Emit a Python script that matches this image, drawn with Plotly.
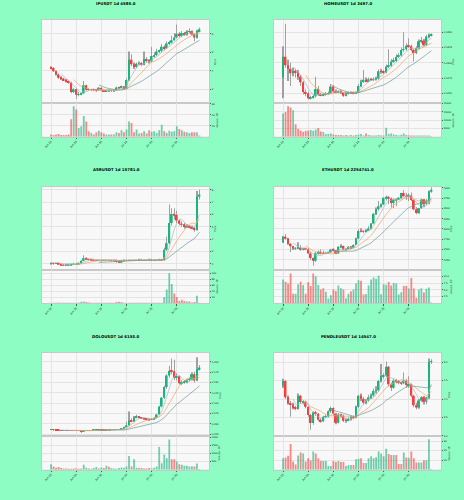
import numpy as np
import pandas as pd
import plotly.graph_objects as go

W, H = 464, 500
date_ticks = [0, 10, 20, 30, 40, 50]
date_labels = ["Jun 10", "Jun 20", "Jun 30", "Jul 10", "Jul 20", "Jul 30"]

# ---------------- IPUSDT ----------------
ip_open = [4.20,4.15,3.98,3.80,3.62,3.58,3.50,3.42,3.35,2.85, 3.00,2.70,2.72,2.78,3.22,2.98,2.97,2.99,2.96,2.95,
           3.08,2.95,2.90,2.93,2.95,2.92,2.94,3.10,3.08,3.15, 3.05,3.50,4.60,4.35,4.20,4.38,4.40,4.33,4.62,4.58,
           4.50,4.80,4.85,5.05,5.08,5.30,5.22,5.48,5.52,5.66, 5.80,6.00,5.88,6.05,5.95,6.12,6.14,5.98,5.80,6.15]
ip_close = [4.15,3.98,3.80,3.62,3.58,3.50,3.42,3.35,2.85,3.00, 2.70,2.72,2.78,3.22,2.98,2.97,2.99,2.96,2.95,3.08,
            2.95,2.90,2.93,2.95,2.92,2.94,3.10,3.08,3.15,3.05, 3.50,4.60,4.35,4.20,4.38,4.40,4.33,4.62,4.58,4.50,
            4.80,4.85,5.05,5.08,5.30,5.22,5.48,5.52,5.66,5.80, 6.00,5.88,6.05,5.95,6.12,6.14,5.98,5.80,6.15,6.25]
ip_high = [4.25,4.20,4.02,3.85,3.70,3.62,3.55,3.48,3.40,3.05, 3.05,2.85,2.82,3.45,3.25,3.05,3.03,3.02,3.00,3.12,
           3.10,2.98,2.97,2.99,2.97,2.98,3.15,3.14,3.20,3.18, 3.58,5.05,4.90,4.45,4.45,4.50,4.48,5.05,4.75,4.62,
           5.30,5.00,5.20,5.15,5.45,5.38,5.60,5.62,5.90,6.05, 6.50,6.10,6.15,6.10,6.20,6.30,6.18,6.02,6.22,6.35]
ip_low = [4.08,3.95,3.75,3.55,3.50,3.45,3.36,3.30,2.78,2.80, 2.48,2.62,2.68,2.75,2.92,2.92,2.93,2.92,2.90,2.93,
          2.90,2.86,2.88,2.90,2.88,2.90,2.92,3.02,3.05,3.00, 3.02,3.45,4.25,4.10,4.15,4.30,4.25,4.30,4.48,4.40,
          4.45,4.72,4.80,4.95,5.02,5.10,5.18,5.40,5.48,5.62, 5.75,5.80,5.82,5.88,5.90,6.05,5.92,5.60,5.75,6.10]
ip_vol = [4,3,4,5,3,3,3,4,32,56, 50,16,19,38,28,10,7,4,8,11, 8,6,4,4,4,4,8,7,12,8,
          13,28,25,8,13,6,7,10,6,12, 9,10,7,12,22,10,7,11,9,10, 19,14,12,9,8,7,8,8,8,2]

# ---------------- HOMEUSDT ----------------
home_open = [0.0276,0.0310,0.0296,0.0290,0.0283,0.0287,0.0284,0.0277,0.0268,0.0252,
             0.0250,0.0242,0.0243,0.0245,0.0257,0.0248,0.0247,0.0248,0.0249,0.0250,
             0.0261,0.0253,0.0252,0.0253,0.0251,0.0246,0.0251,0.0250,0.0251,0.0250,
             0.0251,0.0262,0.0269,0.0272,0.0270,0.0273,0.0272,0.0273,0.0274,0.0286,
             0.0285,0.0284,0.0294,0.0295,0.0302,0.0303,0.0310,0.0312,0.0321,0.0322,
             0.0328,0.0327,0.0321,0.0316,0.0324,0.0335,0.0336,0.0329,0.0343,0.0344]
home_close = [0.0310,0.0296,0.0290,0.0283,0.0287,0.0284,0.0277,0.0268,0.0252,0.0250,
              0.0242,0.0243,0.0245,0.0257,0.0248,0.0247,0.0248,0.0249,0.0250,0.0261,
              0.0253,0.0252,0.0253,0.0251,0.0246,0.0251,0.0250,0.0251,0.0250,0.0251,
              0.0262,0.0269,0.0272,0.0270,0.0273,0.0272,0.0273,0.0274,0.0286,0.0285,
              0.0284,0.0294,0.0295,0.0302,0.0303,0.0310,0.0312,0.0321,0.0322,0.0328,
              0.0327,0.0321,0.0316,0.0324,0.0335,0.0336,0.0329,0.0343,0.0344,0.0346]
home_high = [0.0327,0.0364,0.0305,0.0300,0.0292,0.0290,0.0288,0.0280,0.0270,0.0256,
             0.0253,0.0246,0.0248,0.0277,0.0262,0.0251,0.0250,0.0252,0.0253,0.0265,
             0.0263,0.0256,0.0255,0.0255,0.0252,0.0253,0.0253,0.0253,0.0253,0.0253,
             0.0265,0.0272,0.0288,0.0276,0.0276,0.0275,0.0276,0.0277,0.0289,0.0290,
             0.0288,0.0297,0.0322,0.0306,0.0308,0.0314,0.0316,0.0325,0.0350,0.0332,
             0.0340,0.0330,0.0323,0.0327,0.0338,0.0342,0.0339,0.0346,0.0348,0.0348]
home_low = [0.0242,0.0292,0.0270,0.0262,0.0278,0.0276,0.0272,0.0262,0.0248,0.0245,
            0.0240,0.0240,0.0241,0.0243,0.0246,0.0245,0.0245,0.0246,0.0247,0.0249,
            0.0251,0.0250,0.0250,0.0249,0.0244,0.0245,0.0248,0.0249,0.0248,0.0249,
            0.0250,0.0260,0.0267,0.0268,0.0268,0.0270,0.0270,0.0271,0.0272,0.0282,
            0.0281,0.0283,0.0291,0.0293,0.0300,0.0301,0.0308,0.0310,0.0318,0.0320,
            0.0324,0.0319,0.0302,0.0314,0.0322,0.0332,0.0326,0.0327,0.0340,0.0343]
home_vol = [14000,15000,18400,17600,16000,7600,4800,3600,3000,3600,
            3600,4000,3600,4400,5200,3200,2800,1600,1600,2000,
            1400,1000,1000,1000,800,1000,800,1000,800,1000,
            1400,1600,800,2000,1000,800,800,800,1000,800,
            800,5400,1600,2000,1400,1000,800,1200,2000,1000,
            800,700,700,700,700,700,700,700,700,200]

# ---------------- ASRUSDT ----------------
asr_open = [2.04,2.05,2.04,2.06,1.98,1.92,1.90,1.92,1.93,1.98, 1.99,2.00,2.05,2.25,2.45,2.38,2.35,2.32,2.30,2.31,
            2.30,2.29,2.30,2.31,2.30,2.29,2.28,2.22,2.15,2.30, 2.29,2.30,2.31,2.30,2.31,2.30,2.32,2.31,2.30,2.31,
            2.32,2.31,2.30,2.31,2.32,2.30,3.14,3.68,5.30,6.03, 5.95,5.50,5.24,5.20,4.98,5.02,5.00,4.92,4.75,7.45]
asr_close = [2.05,2.04,2.06,1.98,1.92,1.90,1.92,1.93,1.98,1.99, 2.00,2.05,2.25,2.45,2.38,2.35,2.32,2.30,2.31,2.30,
             2.29,2.30,2.31,2.30,2.29,2.28,2.22,2.15,2.30,2.29, 2.30,2.31,2.30,2.31,2.30,2.32,2.31,2.30,2.31,2.32,
             2.31,2.30,2.31,2.32,2.30,3.14,3.68,5.30,6.03,5.95, 5.50,5.24,5.20,4.98,5.02,5.00,4.92,4.75,7.45,7.60]
asr_high = [2.08,2.08,2.09,2.08,2.00,1.95,1.95,1.96,2.01,2.02, 2.03,2.08,2.30,2.70,2.50,2.42,2.38,2.35,2.34,2.34,
            2.33,2.33,2.34,2.34,2.33,2.32,2.30,2.25,2.34,2.33, 2.33,2.34,2.34,2.34,2.34,2.35,2.35,2.33,2.34,2.35,
            2.35,2.34,2.34,2.35,2.35,3.30,4.20,6.80,6.50,6.50, 6.30,5.60,5.45,5.30,5.20,5.15,5.10,5.00,7.90,8.00]
asr_low = [2.01,2.01,2.02,1.95,1.89,1.87,1.88,1.90,1.91,1.96, 1.97,1.98,2.03,2.22,2.33,2.31,2.29,2.27,2.28,2.27,
           2.26,2.27,2.28,2.27,2.26,2.25,2.18,2.10,2.13,2.26, 2.27,2.28,2.27,2.28,2.27,2.29,2.28,2.27,2.28,2.29,
           2.28,2.27,2.28,2.29,2.27,2.28,3.05,3.60,5.10,5.60, 5.30,5.10,5.00,4.85,4.90,4.88,4.80,4.60,4.70,7.20]
asr_vol = [2,2,2,3,2,2,2,2,2,2, 2,3,5,6,4,3,2,2,2,2, 2,2,2,2,2,2,4,5,4,2,
           2,2,2,2,2,2,2,2,2,2, 2,2,2,2,2,21,46,100,64,33, 21,8,12,8,6,6,3,4,25,2]

# ---------------- ETHUSDT ----------------
eth_open = [2680,2815,2770,2645,2580,2525,2545,2545,2510,2525, 2515,2405,2295,2228,2415,2445,2418,2416,2424,2437,
            2500,2485,2405,2570,2590,2505,2515,2570,2540,2615, 2770,2950,2945,2935,2970,3010,3130,3370,3475,3550,
            3590,3755,3760,3740,3630,3705,3715,3745,3870,3795, 3790,3810,3700,3480,3390,3500,3715,3610,3685,3910]
eth_close = [2815,2770,2645,2580,2525,2545,2545,2510,2525,2515, 2405,2295,2228,2415,2445,2418,2416,2424,2437,2500,
             2485,2405,2570,2590,2505,2515,2570,2540,2615,2770, 2950,2945,2935,2970,3010,3130,3370,3475,3550,3590,
             3755,3760,3740,3630,3705,3715,3745,3870,3795,3790, 3810,3700,3480,3390,3500,3715,3610,3685,3910,3950]
eth_high = [2830,2880,2780,2660,2590,2560,2680,2610,2535,2540, 2540,2440,2310,2440,2480,2510,2480,2450,2450,2520,
            2525,2490,2590,2630,2600,2530,2590,2590,2630,2790, 2995,3020,2970,2990,3075,3140,3390,3520,3680,3615,
            3760,3810,3790,3765,3740,3730,3770,3880,3940,3880, 3865,3885,3720,3530,3510,3735,3725,3725,3930,4010]
eth_low = [2660,2745,2620,2440,2490,2490,2530,2470,2480,2490, 2400,2250,2110,2200,2380,2390,2400,2390,2410,2420,
           2470,2390,2400,2560,2480,2490,2510,2520,2530,2610, 2750,2920,2905,2920,2960,2990,3125,3340,3450,3520,
           3580,3690,3600,3520,3510,3550,3700,3720,3780,3700, 3680,3680,3455,3355,3370,3490,3525,3570,3600,3880]
eth_vol = [8.9,8.0,7.4,11.1,3.6,3.6,7.1,8.0,6.8,3.6, 7.8,6.4,11.1,10.1,6.8,5.1,5.6,4.3,1.8,3.0,
           5.1,4.6,6.6,5.6,5.1,1.9,3.6,4.5,5.1,7.4, 8.6,8.4,3.3,3.5,6.6,8.9,9.6,9.1,10.3,3.4,
           7.1,6.9,7.9,6.6,7.6,7.4,3.3,4.1,6.4,6.5, 5.5,9.4,5.5,2.1,5.1,5.6,4.0,5.4,5.9,0.3]

# ---------------- DOLOUSDT ----------------
dolo_open = [0.0360,0.0370,0.0355,0.0350,0.0348,0.0345,0.0347,0.0344,0.0342,0.0343,
             0.0340,0.0338,0.0336,0.0318,0.0340,0.0345,0.0343,0.0346,0.0348,0.0352,
             0.0350,0.0355,0.0353,0.0358,0.0357,0.0360,0.0362,0.0365,0.0372,0.0390,
             0.0420,0.0470,0.0580,0.0560,0.0660,0.0680,0.0660,0.0640,0.0625,0.0615,
             0.0605,0.0610,0.0650,0.0730,0.0920,0.1130,0.1390,0.1670,0.1780,0.1770,
             0.1620,0.1650,0.1480,0.1500,0.1520,0.1560,0.1580,0.1700,0.1550,0.1820]
dolo_close = [0.0370,0.0355,0.0350,0.0348,0.0345,0.0347,0.0344,0.0342,0.0343,0.0340,
              0.0338,0.0336,0.0318,0.0340,0.0345,0.0343,0.0346,0.0348,0.0352,0.0350,
              0.0355,0.0353,0.0358,0.0357,0.0360,0.0362,0.0365,0.0372,0.0390,0.0420,
              0.0470,0.0580,0.0560,0.0660,0.0680,0.0660,0.0640,0.0625,0.0615,0.0605,
              0.0610,0.0650,0.0730,0.0920,0.1130,0.1390,0.1670,0.1780,0.1770,0.1620,
              0.1650,0.1480,0.1500,0.1520,0.1560,0.1580,0.1700,0.1550,0.1820,0.1860]
dolo_high = [0.0378,0.0372,0.0358,0.0354,0.0350,0.0350,0.0349,0.0347,0.0346,0.0345,
             0.0343,0.0340,0.0338,0.0345,0.0350,0.0348,0.0350,0.0352,0.0356,0.0355,
             0.0359,0.0358,0.0362,0.0362,0.0364,0.0366,0.0370,0.0378,0.0398,0.0430,
             0.0560,0.0800,0.0640,0.0690,0.0720,0.0690,0.0670,0.0650,0.0640,0.0630,
             0.0625,0.0660,0.0745,0.0940,0.1150,0.1420,0.1700,0.1900,0.2080,0.2050,
             0.1720,0.1670,0.1560,0.1560,0.1580,0.1620,0.1740,0.1760,0.2110,0.1920]
dolo_low = [0.0355,0.0352,0.0346,0.0344,0.0340,0.0342,0.0340,0.0338,0.0338,0.0336,
            0.0334,0.0330,0.0305,0.0312,0.0336,0.0338,0.0340,0.0342,0.0345,0.0345,
            0.0347,0.0348,0.0350,0.0352,0.0354,0.0356,0.0358,0.0360,0.0368,0.0385,
            0.0415,0.0460,0.0540,0.0550,0.0640,0.0640,0.0620,0.0610,0.0600,0.0590,
            0.0595,0.0600,0.0640,0.0720,0.0900,0.1100,0.1350,0.1620,0.1700,0.1560,
            0.1550,0.1450,0.1440,0.1470,0.1480,0.1530,0.1550,0.1500,0.1540,0.1790]
dolo_vol = [340,200,120,160,100,80,80,60,60,80, 80,60,80,300,120,80,60,100,160,80,
            140,100,240,180,100,80,60,100,140,120, 200,840,200,640,120,100,100,80,80,100,
            80,120,200,1400,400,940,700,1860,640,640, 500,340,300,240,240,200,220,200,380,40]

# ---------------- PENDLEUSDT ----------------
pendle_open = [4.36,4.49,4.05,3.88,3.85,3.76,3.74,4.09,3.92,3.93, 3.79,3.57,3.35,3.64,3.60,3.44,3.40,3.52,3.53,3.67,
               3.76,3.60,3.36,3.58,3.55,3.41,3.43,3.45,3.51,3.50, 3.79,4.09,4.01,3.90,3.96,4.05,4.10,4.22,4.24,4.49,
               4.62,4.64,4.88,4.40,4.31,4.50,4.49,4.45,4.43,4.50, 4.38,4.40,4.09,3.83,3.77,3.96,4.05,3.92,4.04,5.01]
pendle_close = [4.49,4.05,3.88,3.85,3.76,3.74,4.09,3.92,3.93,3.79, 3.57,3.35,3.64,3.60,3.44,3.40,3.52,3.53,3.67,3.76,
                3.60,3.36,3.58,3.55,3.41,3.43,3.45,3.51,3.50,3.79, 4.09,4.01,3.90,3.96,4.05,4.10,4.22,4.24,4.49,4.62,
                4.64,4.88,4.40,4.31,4.50,4.49,4.45,4.43,4.50,4.38, 4.40,4.09,3.83,3.77,3.96,4.05,3.92,4.04,5.01,5.02]
pendle_high = [4.55,4.52,4.10,3.95,3.90,3.82,4.15,4.12,3.97,3.96, 3.80,3.60,3.67,3.68,3.62,3.48,3.55,3.58,3.70,3.80,
               3.78,3.62,3.62,3.60,3.58,3.47,3.50,3.55,3.55,3.82, 4.12,4.15,4.05,4.00,4.12,4.15,4.28,4.35,4.52,4.95,
               4.70,5.02,4.90,4.45,4.55,4.55,4.52,4.48,4.72,4.55, 4.62,4.42,4.12,3.90,4.00,4.08,4.08,4.06,5.10,5.08]
pendle_low = [4.30,4.00,3.85,3.52,3.72,3.70,3.72,3.88,3.85,3.75, 3.52,3.17,3.30,3.55,3.40,3.36,3.38,3.48,3.50,3.62,
              3.56,3.32,3.34,3.50,3.38,3.36,3.40,3.42,3.46,3.48, 3.75,3.95,3.85,3.86,3.93,4.00,4.06,4.15,4.20,4.45,
              4.55,4.60,4.35,4.22,4.28,4.42,4.40,4.38,4.40,4.30, 4.30,4.05,3.78,3.72,3.74,3.92,3.85,3.86,4.00,4.95]
pendle_vol = [12,12.8,14.5,27,8.6,5.5,14.8,18,17,8.6, 12,9.7,19,17,12,9,9,9,4,4,
              9,8,9,8,8,4,5,5,5,11, 11.4,12,7,7,12,14,12,13,19,17,
              14,22,16.5,15.5,15.5,15.5,6,6,18,12.8, 12.4,19,12,7.6,7.6,7.6,10,10,32,0.7]

panels = [
    dict(title="IPUSDT 1d 4585.0", o=ip_open, h=ip_high, l=ip_low, c=ip_close, v=ip_vol,
         prange=[2.24, 6.75], ptv=[3, 4, 5, 6], ptt=["3", "4", "5", "6"],
         vrange=[0, 61.2], vtv=[20, 40, 60], vtt=["20", "40", "60"], vexp="⁶"),
    dict(title="HOMEUSDT 1d 2497.0", o=home_open, h=home_high, l=home_low, c=home_close, v=home_vol,
         prange=[0.02336, 0.0370], ptv=[0.025, 0.0275, 0.03, 0.0325, 0.035],
         ptt=["0.0250", "0.0275", "0.0300", "0.0325", "0.0350"],
         vrange=[0, 20200], vtv=[5000, 10000, 15000, 20000], vtt=["5000", "10000", "15000", "20000"], vexp="⁵"),
    dict(title="ASRUSDT 1d 15781.0", o=asr_open, h=asr_high, l=asr_low, c=asr_close, v=asr_vol,
         prange=[1.51, 8.24], ptv=[2, 3, 4, 5, 6, 7, 8], ptt=["2", "3", "4", "5", "6", "7", "8"],
         vrange=[0, 111], vtv=[20, 40, 60, 80, 100], vtt=["20", "40", "60", "80", "100"], vexp="⁵"),
    dict(title="ETHUSDT 1d 2254741.0", o=eth_open, h=eth_high, l=eth_low, c=eth_close, v=eth_vol,
         prange=[2007, 4024], ptv=[2250, 2500, 2750, 3000, 3250, 3500, 3750, 4000],
         ptt=["2250", "2500", "2750", "3000", "3250", "3500", "3750", "4000"],
         vrange=[0, 12.4], vtv=[2.5, 5, 7.5, 10], vtt=["2.5", "5.0", "7.5", "10.0"], vexp="⁵"),
    dict(title="DOLOUSDT 1d 6153.0", o=dolo_open, h=dolo_high, l=dolo_low, c=dolo_close, v=dolo_vol,
         prange=[0.0202, 0.221], ptv=[0.025, 0.05, 0.075, 0.1, 0.125, 0.15, 0.175, 0.2],
         ptt=["0.025", "0.050", "0.075", "0.100", "0.125", "0.150", "0.175", "0.200"],
         vrange=[0, 2060], vtv=[500, 1000, 1500, 2000], vtt=["500", "1000", "1500", "2000"], vexp="⁵"),
    dict(title="PENDLEUSDT 1d 14547.0", o=pendle_open, h=pendle_high, l=pendle_low, c=pendle_close, v=pendle_vol,
         prange=[2.99, 5.25], ptv=[3.0, 3.5, 4.0, 4.5, 5.0], ptt=["3.0", "3.5", "4.0", "4.5", "5.0"],
         vrange=[0, 35], vtv=[10, 20, 30], vtt=["10", "20", "30"], vexp="⁵"),
]

BG = "#8dfdc4"
PLOT_BG = "#f8f8f8"
GRID = "#e4e4e4"
FRAME = "#c8c8c8"
UP, DOWN = "#1db37c", "#f2403e"
VUP, VDOWN = "rgba(29,179,124,0.62)", "rgba(242,64,62,0.6)"
WICK = "#a0a0a0"
MA = [(5, "#a8b8c8"), (10, "#f3a35e"), (20, "#6d9a98")]
FONT = "DejaVu Sans"
TICKF = dict(family=FONT, size=2.4, color="#222")
XTICKF = dict(family=FONT, size=2.7, color="#222")
LABF = dict(family=FONT, size=2.5, color="#222")

col_x = [(42, 209), (274, 441)]
row_y = [(20, 103.3, 136.7), (186.7, 270, 303.3), (353, 436.3, 469.7)]
title_y = [3.5, 169.5, 336.5]
XR = [-3.6, 62.8]

fig = go.Figure()
layout = {}
ann = []

for k, p in enumerate(panels):
    r, ci = divmod(k, 2)
    x0, x1 = col_x[ci]
    top, split, bot = row_y[r]
    ip_, iv_ = 2 * k + 1, 2 * k + 2
    xp = "x" if ip_ == 1 else f"x{ip_}"
    yp = "y" if ip_ == 1 else f"y{ip_}"
    xv, yv = f"x{iv_}", f"y{iv_}"
    o = np.array(p["o"], float); h = np.array(p["h"], float)
    l = np.array(p["l"], float); c = np.array(p["c"], float)
    v = np.array(p["v"], float)
    idx = np.arange(len(c))
    up = c >= o
    span = p["prange"][1] - p["prange"][0]

    # wicks
    fig.add_trace(go.Bar(x=idx, y=h - l, base=l, width=0.12, marker=dict(color=WICK, line=dict(width=0)),
                         xaxis=xp, yaxis=yp, hoverinfo="skip"))
    # bodies
    fig.add_trace(go.Bar(x=idx, y=np.maximum(np.abs(c - o), span * 0.004), base=np.minimum(o, c), width=0.72,
                         marker=dict(color=[UP if u else DOWN for u in up], line=dict(width=0)),
                         xaxis=xp, yaxis=yp))
    # moving averages
    for w, col in MA:
        ma = pd.Series(c).rolling(w).mean()
        fig.add_trace(go.Scatter(x=idx, y=ma, mode="lines", line=dict(color=col, width=0.7),
                                 xaxis=xp, yaxis=yp, connectgaps=False))
    # volume
    fig.add_trace(go.Bar(x=idx, y=v, width=0.72,
                         marker=dict(color=[VUP if u else VDOWN for u in up], line=dict(width=0)),
                         xaxis=xv, yaxis=yv))

    dom_x = [x0 / W, x1 / W]
    common_x = dict(domain=dom_x, range=XR, tickvals=date_ticks, showgrid=True, gridcolor=GRID, gridwidth=0.6,
                    zeroline=False, showline=True, linecolor=FRAME, linewidth=0.6, mirror=True, fixedrange=True)
    common_y = dict(side="right", showgrid=True, gridcolor=GRID, gridwidth=0.6, zeroline=False, showline=True,
                    linecolor=FRAME, linewidth=0.6, mirror=True, ticks="outside", ticklen=1.5, tickwidth=0.5,
                    tickcolor="#555", tickfont=TICKF, fixedrange=True, automargin=False)
    kp = "xaxis" if ip_ == 1 else f"xaxis{ip_}"
    layout[kp] = dict(common_x, anchor=yp, showticklabels=False, ticks="")
    layout[f"xaxis{iv_}"] = dict(common_x, anchor=yv, ticktext=date_labels, tickangle=-45, tickfont=XTICKF,
                                 ticks="outside", ticklen=1.5, tickwidth=0.5, tickcolor="#555")
    kyp = "yaxis" if ip_ == 1 else f"yaxis{ip_}"
    layout[kyp] = dict(common_y, domain=[1 - split / H, 1 - top / H], anchor=xp, range=p["prange"],
                       tickvals=p["ptv"], ticktext=p["ptt"])
    layout[f"yaxis{iv_}"] = dict(common_y, domain=[1 - bot / H, 1 - split / H], anchor=xv, range=p["vrange"],
                                 tickvals=p["vtv"], ticktext=p["vtt"])

    ann.append(dict(text=f"<b>{p['title']}</b>", x=(116 + 232 * ci) / W, y=1 - title_y[r] / H,
                    xref="paper", yref="paper", showarrow=False, xanchor="center", yanchor="middle",
                    font=dict(family=FONT, size=3.9, color="#000")))
    px_lab = x1 + 5 + 1.35 * max(len(t) for t in p["ptt"])
    ann.append(dict(text="Price", x=px_lab / W, y=1 - (top + split) / 2 / H, xref="paper", yref="paper",
                    showarrow=False, textangle=-90, xanchor="center", yanchor="middle", font=LABF))
    vx_lab = x1 + 5 + 1.35 * max(len(t) for t in p["vtt"])
    ann.append(dict(text=f"Volume  10{p['vexp']}", x=vx_lab / W, y=1 - (split + bot) / 2 / H,
                    xref="paper", yref="paper", showarrow=False, textangle=-90, xanchor="center",
                    yanchor="middle", font=LABF))

fig.update_layout(
    width=W, height=H, margin=dict(l=0, r=0, t=0, b=0), template="none",
    paper_bgcolor=BG, plot_bgcolor=PLOT_BG, showlegend=False, barmode="overlay",
    font=dict(family=FONT, size=4, color="#222"), annotations=ann, **layout)

fig.write_html("out.html")
